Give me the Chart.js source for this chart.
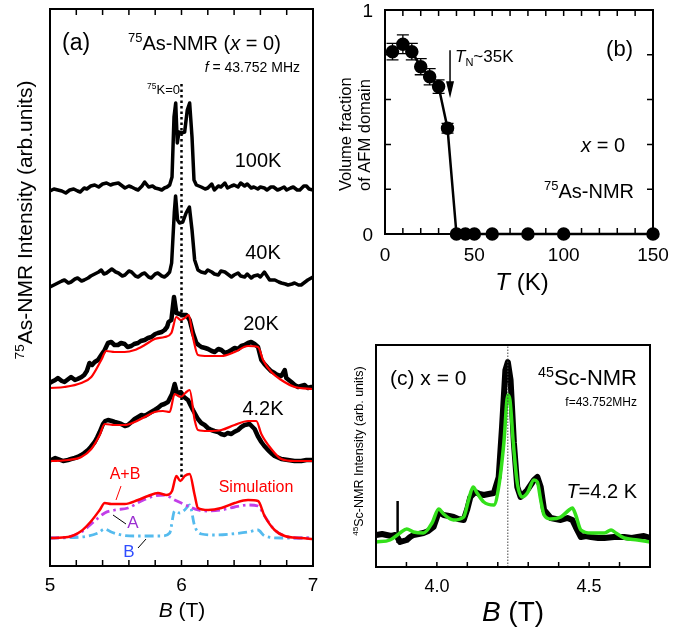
<!DOCTYPE html>
<html>
<head>
<meta charset="utf-8">
<script src="https://cdn.jsdelivr.net/npm/chart.js@4.4.1/dist/chart.umd.min.js"></script>
<style>
  body { margin: 0; background: #fff; }
  canvas { position: absolute; left: 0; top: 0; }
</style>
</head>
<body>
<canvas id="chartA" width="693" height="627"></canvas>
<canvas id="chartB" width="693" height="627"></canvas>
<canvas id="chartC" width="693" height="627"></canvas>
<script>
// ---- panel (a): 75As-NMR spectra, [B (T), intensity above own baseline]
const spec100K = [[5.00,-1],[5.03,1],[5.06,0],[5.09,-1],[5.12,-3],[5.15,0],[5.18,1],[5.21,-1],[5.23,-2],[5.26,2],[5.28,1],[5.31,4],[5.34,5],[5.37,3],[5.40,6],[5.43,7],[5.46,5],[5.48,6],[5.52,7],[5.55,4],[5.57,2],[5.60,4],[5.62,3],[5.65,1],[5.67,0],[5.70,4],[5.72,8],[5.75,3],[5.78,4],[5.80,2],[5.83,1],[5.85,0],[5.87,2],[5.89,3],[5.91,5],[5.928,13],[5.943,73],[5.956,87],[5.968,47],[5.981,58],[6.00,57],[6.024,58],[6.044,80],[6.062,87],[6.08,53],[6.095,10],[6.113,5],[6.15,3],[6.18,1],[6.20,2],[6.23,6],[6.25,0],[6.28,4],[6.30,3],[6.33,7],[6.35,2],[6.38,4],[6.40,5],[6.43,3],[6.45,7],[6.48,4],[6.50,6],[6.53,2],[6.55,3],[6.58,1],[6.60,3],[6.63,2],[6.65,0],[6.68,3],[6.70,3],[6.73,0],[6.75,1],[6.78,3],[6.80,0],[6.83,2],[6.85,3],[6.88,0],[6.90,0],[6.93,4],[6.95,4],[6.97,1],[7.00,0]];
const spec40K = [[5.00,-2],[5.03,0],[5.06,2],[5.09,4],[5.11,5],[5.14,2],[5.16,3],[5.19,6],[5.21,7],[5.24,4],[5.26,5],[5.29,7],[5.31,9],[5.34,11],[5.37,13],[5.39,15],[5.41,11],[5.43,12],[5.45,14],[5.47,16],[5.50,13],[5.52,12],[5.55,9],[5.57,10],[5.60,14],[5.62,13],[5.65,9],[5.67,8],[5.70,11],[5.72,12],[5.75,8],[5.77,7],[5.80,11],[5.82,12],[5.85,9],[5.87,8],[5.89,10],[5.91,13],[5.925,22],[5.945,72],[5.955,89],[5.97,65],[5.985,62],[6.01,63],[6.035,72],[6.06,78],[6.08,55],[6.10,25],[6.125,15],[6.15,13],[6.18,12],[6.20,15],[6.23,13],[6.25,11],[6.28,10],[6.30,14],[6.33,13],[6.35,11],[6.38,8],[6.40,10],[6.43,12],[6.45,9],[6.48,8],[6.50,11],[6.53,7],[6.55,9],[6.58,10],[6.60,8],[6.63,13],[6.65,9],[6.67,5],[6.71,5],[6.74,3],[6.76,2],[6.79,1],[6.81,0],[6.84,1],[6.86,2],[6.89,0],[6.91,0],[6.94,3],[6.96,5],[7.00,8]];
const spec20K = [[5.00,6],[5.01,7],[5.04,9],[5.06,11],[5.09,8],[5.11,7],[5.14,10],[5.16,12],[5.19,9],[5.21,10],[5.24,12],[5.26,14],[5.28,18],[5.30,26],[5.32,24],[5.34,27],[5.365,29],[5.39,34],[5.416,39],[5.441,46],[5.466,47],[5.49,44],[5.517,44],[5.54,46],[5.568,45],[5.59,42],[5.618,43],[5.64,45],[5.669,46],[5.69,48],[5.72,49],[5.745,51],[5.771,52],[5.80,55],[5.821,56],[5.85,57],[5.872,59],[5.89,62],[5.902,67],[5.923,69],[5.943,92],[5.961,76],[5.986,75],[6.011,74],[6.037,74],[6.062,69],[6.087,56],[6.113,46],[6.13,44],[6.151,42],[6.18,41],[6.202,40],[6.23,38],[6.252,37],[6.28,40],[6.303,39],[6.33,36],[6.354,37],[6.38,39],[6.404,41],[6.43,40],[6.455,43],[6.48,44],[6.506,46],[6.53,47],[6.556,45],[6.582,42],[6.607,29],[6.63,25],[6.658,21],[6.68,18],[6.708,16],[6.73,14],[6.759,13],[6.785,19],[6.797,11],[6.835,7],[6.86,4],[6.886,2],[6.91,3],[6.937,4],[6.96,1],[6.987,2],[7.00,2]];
const sim20K = [[5.00,1],[5.11,2],[5.238,6],[5.314,12],[5.39,29],[5.428,38],[5.492,37],[5.568,37],[5.644,39],[5.72,44],[5.796,50],[5.872,52],[5.923,56],[5.961,72],[5.994,69],[6.024,71],[6.055,74],[6.087,52],[6.125,34],[6.202,33],[6.303,33],[6.404,37],[6.506,43],[6.582,42],[6.62,29],[6.683,17],[6.759,9],[6.861,2],[7.00,0]];
const spec4K = [[5.00,1],[5.01,1],[5.04,3],[5.061,2],[5.10,0],[5.137,1],[5.16,2],[5.188,3],[5.21,4],[5.238,6],[5.26,8],[5.289,11],[5.31,14],[5.34,19],[5.36,24],[5.378,29],[5.403,37],[5.42,40],[5.441,41],[5.47,40],[5.492,39],[5.52,38],[5.542,37],[5.57,35],[5.593,36],[5.62,39],[5.644,42],[5.67,44],[5.695,46],[5.72,45],[5.745,47],[5.77,49],[5.796,51],[5.82,53],[5.847,56],[5.87,57],[5.897,59],[5.928,67],[5.948,77],[5.968,67],[5.994,69],[6.019,64],[6.049,61],[6.087,51],[6.125,42],[6.15,38],[6.176,36],[6.20,33],[6.227,31],[6.25,30],[6.278,29],[6.30,27],[6.328,26],[6.35,28],[6.379,27],[6.40,29],[6.43,31],[6.455,34],[6.48,36],[6.518,37],[6.556,32],[6.58,25],[6.607,19],[6.63,15],[6.658,11],[6.69,7],[6.708,5],[6.759,2],[6.81,1],[6.86,0],[6.911,0],[6.95,1],[7.00,1]];
const sim4K = [[5.00,0],[5.137,1],[5.238,4],[5.314,12],[5.378,26],[5.416,37],[5.492,36],[5.568,36],[5.644,39],[5.72,44],[5.796,49],[5.859,50],[5.91,49],[5.948,67],[5.994,64],[6.029,68],[6.062,71],[6.10,41],[6.125,31],[6.202,30],[6.303,31],[6.404,36],[6.506,40],[6.569,40],[6.607,27],[6.683,12],[6.759,2],[6.861,0],[7.00,0]];
const simAB = [[5.00,0],[5.137,1],[5.238,7],[5.314,17],[5.378,28],[5.416,35],[5.466,34],[5.568,34],[5.669,38],[5.745,42],[5.821,45],[5.885,43],[5.928,47],[5.961,62],[5.991,57],[6.024,62],[6.062,64],[6.10,43],[6.125,30],[6.202,28],[6.303,30],[6.404,35],[6.506,38],[6.582,37],[6.632,22],[6.708,8],[6.785,2],[6.911,0],[7.00,-1]];
const simA = [[5.00,0],[5.137,1],[5.238,6],[5.34,17],[5.416,25],[5.492,28],[5.593,30],[5.695,37],[5.796,42],[5.872,43],[5.948,38],[6.049,32],[6.125,28],[6.202,27],[6.303,28],[6.404,31],[6.506,33],[6.582,32],[6.632,22],[6.708,8],[6.785,2],[6.911,0],[7.00,0]];
const simB = [[5.00,0],[5.238,1],[5.365,5],[5.416,9],[5.466,6],[5.542,3],[5.644,2],[5.745,2],[5.847,2],[5.91,5],[5.948,27],[5.986,25],[6.024,28],[6.062,33],[6.10,12],[6.151,4],[6.252,3],[6.379,4],[6.506,6],[6.582,8],[6.632,2],[6.759,0],[7.00,0]];
// vertical offsets of the stacked spectra (arb. units)
const offsetsA = { '100K': 376, '40K': 281, '20K': 177, '4.2K': 105, sim: 28 };
const knightZero = 6.0;

// ---- panel (b): volume fraction of AFM domain vs T
const tempK = [4.2, 10, 15, 20, 25, 30, 35, 40, 45, 50, 60, 80, 100, 150];
const afmFraction = [0.814, 0.847, 0.814, 0.747, 0.702, 0.658, 0.472, 0, 0, 0, 0, 0, 0, 0];
const afmError = [0.037, 0.042, 0.037, 0.036, 0.036, 0.03, 0.022, 0, 0, 0, 0, 0, 0, 0];
const tN = 36.4;

// ---- panel (c): 45Sc-NMR spectrum at 4.2 K
const scData = [[3.80,32],[3.82,33],[3.835,32],[3.85,31],[3.863,32],[3.870,30],[3.879,25],[3.89,26],[3.901,27],[3.912,30],[3.923,32],[3.94,33],[3.956,34],[3.972,36],[3.989,40],[4.006,55],[4.022,52],[4.04,51],[4.055,50],[4.07,48],[4.088,47],[4.10,58],[4.110,70],[4.126,75],[4.14,73],[4.154,72],[4.17,73],[4.187,74],[4.203,90],[4.214,140],[4.225,197],[4.233,205],[4.242,187],[4.253,124],[4.264,80],[4.275,70],[4.297,77],[4.319,87],[4.330,90],[4.341,80],[4.352,57],[4.374,49],[4.39,48],[4.407,47],[4.429,49],[4.445,47],[4.456,40],[4.473,30],[4.49,31],[4.506,30],[4.53,29],[4.550,29],[4.582,30],[4.615,30],[4.64,29],[4.659,30],[4.68,31],[4.70,29]];
const scSpike = [[3.871,24],[3.871,66]];
const scSim = [[3.80,25],[3.846,27],[3.879,34],[3.901,38],[3.923,35],[3.956,34],[3.984,44],[4.006,58],[4.022,53],[4.055,47],[4.088,50],[4.104,67],[4.119,80],[4.132,74],[4.154,65],[4.187,62],[4.203,80],[4.220,124],[4.233,172],[4.240,167],[4.251,124],[4.264,84],[4.280,70],[4.297,74],[4.319,87],[4.330,85],[4.341,67],[4.352,52],[4.374,48],[4.407,50],[4.434,57],[4.445,59],[4.456,52],[4.473,37],[4.506,34],[4.550,34],[4.572,37],[4.588,34],[4.615,29],[4.659,27],[4.70,25]];
const scCenter = 4.233;

const FONT = '"Liberation Sans", Arial, sans-serif';

function pts(pairs, offset) {
  return pairs.map(p => ({ x: p[0], y: p[1] + (offset || 0) }));
}

// draws text made of parts: [text, style] with style '', 'i', 'sup', 'sub'
function richText(ctx, x, y, parts, size, align, color) {
  ctx.save();
  ctx.fillStyle = color || '#000';
  ctx.textBaseline = 'alphabetic';
  ctx.textAlign = 'left';
  const segs = parts.map(p => {
    const st = p[1] || '';
    const fs = (st === 'sup' || st === 'sub') ? size * 0.65 : size;
    const font = (st === 'i' ? 'italic ' : '') + fs + 'px ' + FONT;
    ctx.font = font;
    return { t: p[0], font: font, w: ctx.measureText(p[0]).width,
             dy: st === 'sup' ? -size * 0.38 : st === 'sub' ? size * 0.25 : 0 };
  });
  const total = segs.reduce((s, g) => s + g.w, 0);
  let cx = align === 'center' ? x - total / 2 : align === 'right' ? x - total : x;
  segs.forEach(g => {
    ctx.font = g.font;
    ctx.fillText(g.t, cx, y + g.dy);
    cx += g.w;
  });
  ctx.restore();
}

function rotatedText(ctx, x, y, parts, size, align) {
  ctx.save();
  ctx.translate(x, y);
  ctx.rotate(-Math.PI / 2);
  richText(ctx, 0, 0, parts, size, align);
  ctx.restore();
}

// frame and inward ticks using the chart's own scales
function drawFrame(chart, o) {
  const { ctx, chartArea: a, scales: { x, y } } = chart;
  ctx.save();
  ctx.strokeStyle = '#000';
  ctx.lineWidth = 2;
  ctx.strokeRect(a.left, a.top, a.right - a.left, a.bottom - a.top);
  ctx.lineWidth = 1.5;
  ctx.beginPath();
  (o.xTicks || []).forEach(v => {
    const px = x.getPixelForValue(v);
    if (o.bottom) { ctx.moveTo(px, a.bottom); ctx.lineTo(px, a.bottom - o.len); }
    if (o.top) { ctx.moveTo(px, a.top); ctx.lineTo(px, a.top + o.len); }
  });
  (o.yTicks || []).forEach(v => {
    const py = y.getPixelForValue(v);
    if (o.left) { ctx.moveTo(a.left, py); ctx.lineTo(a.left + o.len, py); }
    if (o.right) { ctx.moveTo(a.right, py); ctx.lineTo(a.right - o.len, py); }
  });
  ctx.stroke();
  ctx.restore();
  (o.xLabels || []).forEach(l => {
    richText(ctx, x.getPixelForValue(l[0]), o.xLabelY, [[l[1]]], o.labelSize, 'center');
  });
  (o.yLabels || []).forEach(l => {
    richText(ctx, a.left - 12, y.getPixelForValue(l[0]) + o.labelSize * 0.36, [[l[1]]], o.labelSize, 'right');
  });
}

function baseOptions(pad, xmin, xmax, ymin, ymax) {
  return {
    responsive: false,
    animation: false,
    layout: { padding: pad },
    plugins: { legend: { display: false }, tooltip: { enabled: false } },
    scales: {
      x: { type: 'linear', display: false, min: xmin, max: xmax },
      y: { type: 'linear', display: false, min: ymin, max: ymax }
    },
    elements: { point: { radius: 0 }, line: { tension: 0 } }
  };
}

// measured traces stay jagged, simulated ones are drawn smooth
function lineSet(data, color, width, dash, smooth) {
  const ds = { data: data, borderColor: color, borderWidth: width, borderDash: dash || [],
               pointRadius: 0, fill: false, borderJoinStyle: 'round', borderCapStyle: 'butt' };
  if (smooth) ds.cubicInterpolationMode = 'monotone';
  return ds;
}
// later entries in a list are drawn on top
function stacked(list) {
  list.forEach((d, i) => { d.order = list.length - i; });
  return list;
}

const range = (a, b, s) => { const r = []; for (let v = a; v <= b + 1e-9; v += s) r.push(+v.toFixed(3)); return r; };

// ---------------- panel (a)
new Chart(document.getElementById('chartA'), {
  type: 'line',
  data: {
    datasets: stacked([
      lineSet(pts(spec100K, offsetsA['100K']), '#000', 3.5),
      lineSet(pts(spec40K, offsetsA['40K']), '#000', 3.5),
      lineSet(pts(spec20K, offsetsA['20K']), '#000', 4.5),
      lineSet(pts(sim20K, offsetsA['20K']), '#ff0000', 2.2, null, true),
      lineSet(pts(spec4K, offsetsA['4.2K']), '#000', 4.5),
      lineSet(pts(sim4K, offsetsA['4.2K']), '#ff0000', 2.2, null, true),
      lineSet(pts(simB, offsetsA.sim), '#55bbee', 2.8, [9, 4, 2.5, 4], true),
      lineSet(pts(simA, offsetsA.sim), '#c23ee8', 2.8, [9, 4, 2.5, 4], true),
      lineSet(pts(simAB, offsetsA.sim), '#ff0000', 2.5, null, true),
      lineSet([{ x: knightZero, y: 89 }, { x: knightZero, y: 483 }], '#000', 2.5, [2.5, 3])
    ])
  },
  options: baseOptions({ left: 50, top: 9, right: 380, bottom: 61 }, 5, 7, 0, 557),
  plugins: [{
    id: 'decorA',
    afterDraw(chart) {
      const ctx = chart.ctx;
      drawFrame(chart, { xTicks: range(5, 7, 0.2), top: true, bottom: true, len: 6,
        xLabels: [[5, '5'], [6, '6'], [7, '7']], xLabelY: 591, labelSize: 19 });
      richText(ctx, 182, 617, [['B', 'i'], [' (T)']], 21, 'center');
      rotatedText(ctx, 32, 220, [['75', 'sup'], ['As-NMR Intensity (arb.units)']], 21, 'center');
      richText(ctx, 62, 50, [['(a)']], 23, 'left');
      richText(ctx, 128, 50, [['75', 'sup'], ['As-NMR ('], ['x', 'i'], [' = 0)']], 20, 'left');
      richText(ctx, 300, 72, [['f', 'i'], [' = 43.752 MHz']], 14, 'right');
      richText(ctx, 180, 94, [['75', 'sup'], ['K=0']], 13, 'right');
      richText(ctx, 258, 167, [['100K']], 20, 'center');
      richText(ctx, 263, 259, [['40K']], 20, 'center');
      richText(ctx, 261, 330, [['20K']], 20, 'center');
      richText(ctx, 263, 415, [['4.2K']], 20, 'center');
      richText(ctx, 256, 492, [['Simulation']], 16, 'center', '#ff0000');
      richText(ctx, 125, 479, [['A+B']], 16, 'center', '#ff0000');
      richText(ctx, 133, 528, [['A']], 17, 'center', '#9b2fd0');
      richText(ctx, 129, 557, [['B']], 17, 'center', '#2f4dff');
      ctx.save();
      ctx.lineWidth = 1;
      ctx.strokeStyle = '#ff0000';
      ctx.beginPath(); ctx.moveTo(121, 486); ctx.lineTo(116, 500); ctx.stroke();
      ctx.strokeStyle = '#000';
      ctx.beginPath(); ctx.moveTo(113, 515); ctx.lineTo(126, 524); ctx.stroke();
      ctx.beginPath(); ctx.moveTo(138, 548); ctx.lineTo(146, 539); ctx.stroke();
      ctx.restore();
    }
  }]
});

// ---------------- panel (b)
new Chart(document.getElementById('chartB'), {
  type: 'line',
  data: {
    datasets: [{
      data: tempK.map((t, i) => ({ x: t, y: afmFraction[i] })),
      borderColor: '#000', borderWidth: 2.5, pointRadius: 5.5,
      pointBackgroundColor: '#000', pointBorderColor: '#000', clip: false, tension: 0
    }]
  },
  options: baseOptions({ left: 385, top: 10, right: 40, bottom: 393 }, 0, 150, 0, 1),
  plugins: [{
    id: 'decorB',
    beforeDatasetsDraw(chart) {
      const { ctx, scales: { x, y } } = chart;
      ctx.save();
      ctx.strokeStyle = '#000';
      ctx.lineWidth = 1.3;
      tempK.forEach((t, i) => {
        if (!afmError[i]) return;
        const px = x.getPixelForValue(t);
        const y1 = y.getPixelForValue(afmFraction[i] + afmError[i]);
        const y2 = y.getPixelForValue(afmFraction[i] - afmError[i]);
        ctx.beginPath();
        ctx.moveTo(px, y1); ctx.lineTo(px, y2);
        ctx.moveTo(px - 6, y1); ctx.lineTo(px + 6, y1);
        ctx.moveTo(px - 6, y2); ctx.lineTo(px + 6, y2);
        ctx.stroke();
      });
      ctx.restore();
    },
    afterDraw(chart) {
      const { ctx, scales: { x, y } } = chart;
      drawFrame(chart, { xTicks: range(0, 150, 10), yTicks: range(0, 1, 0.2), top: true, bottom: true,
        left: true, right: true, len: 6,
        xLabels: [[0, '0'], [50, '50'], [100, '100'], [150, '150']], xLabelY: 261, labelSize: 19,
        yLabels: [[0, '0'], [1, '1']] });
      // T_N arrow
      const ax = x.getPixelForValue(tN);
      const ay1 = y.getPixelForValue(0.82), ay2 = y.getPixelForValue(0.606);
      ctx.save();
      ctx.strokeStyle = '#000'; ctx.fillStyle = '#000'; ctx.lineWidth = 1.5;
      ctx.beginPath(); ctx.moveTo(ax, ay1); ctx.lineTo(ax, ay2 - 14); ctx.stroke();
      ctx.beginPath(); ctx.moveTo(ax - 4, ay2 - 17); ctx.lineTo(ax + 4, ay2 - 17); ctx.lineTo(ax, ay2); ctx.closePath(); ctx.fill();
      ctx.restore();
      richText(ctx, 455, 62, [['T', 'i'], ['N', 'sub'], ['~35K']], 17, 'left');
      richText(ctx, 633, 56, [['(b)']], 22, 'right');
      richText(ctx, 625, 152, [['x', 'i'], [' = 0']], 20, 'right');
      richText(ctx, 634, 198, [['75', 'sup'], ['As-NMR']], 20, 'right');
      richText(ctx, 522, 290, [['T', 'i'], [' (K)']], 24, 'center');
      rotatedText(ctx, 351, 191, [['Volume fraction']], 16.5, 'left');
      rotatedText(ctx, 370, 191, [['of AFM domain']], 16.5, 'left');
    }
  }]
});

// ---------------- panel (c)
new Chart(document.getElementById('chartC'), {
  type: 'line',
  data: {
    datasets: stacked([
      lineSet(pts(scData), '#000', 6),
      lineSet(pts(scSpike), '#000', 2.5),
      lineSet(pts(scSim), '#33e01a', 3.5, null, true),
      lineSet([{ x: scCenter, y: 0 }, { x: scCenter, y: 222 }], '#444', 1, [1.5, 1.5])
    ])
  },
  options: baseOptions({ left: 376, top: 345, right: 43, bottom: 60 }, 3.8, 4.7, 0, 222),
  plugins: [{
    id: 'decorC',
    afterDraw(chart) {
      const ctx = chart.ctx;
      drawFrame(chart, { xTicks: range(3.9, 4.6, 0.1), bottom: true, len: 5,
        xLabels: [[4.0, '4.0'], [4.5, '4.5']], xLabelY: 592, labelSize: 18 });
      richText(ctx, 513, 621, [['B', 'i'], [' (T)']], 28, 'center');
      rotatedText(ctx, 363, 451, [['45', 'sup'], ['Sc-NMR Intensity (arb. units)']], 12.5, 'center');
      richText(ctx, 390, 385, [['(c) x = 0']], 21, 'left');
      richText(ctx, 637, 385, [['45', 'sup'], ['Sc-NMR']], 22, 'right');
      richText(ctx, 637, 406, [['f=43.752MHz']], 12, 'right');
      richText(ctx, 637, 498, [['T', 'i'], ['=4.2 K']], 20, 'right');
    }
  }]
});
</script>
</body>
</html>
